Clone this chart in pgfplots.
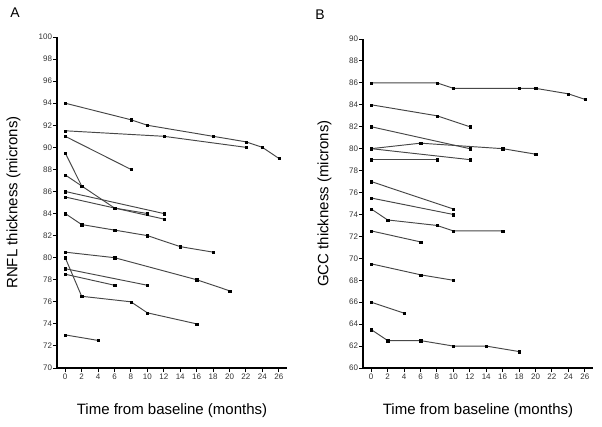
\documentclass[border=0pt]{standalone}
\usepackage{fontspec}
\setmainfont{Liberation Sans}
\usepackage{pgfplots}
\pgfplotsset{compat=1.18}

\pgfplotsset{
  panel/.style={
    scale only axis, width=230pt,
    xmin=-1, xmax=27,
    axis x line*=bottom, axis y line*=left,
    axis line style={line width=1.3pt, black, -},
    xtick={0,2,...,26},
    ytick distance=2,
    tick style={line width=0.9pt, black},
    major tick length=4pt,
    tick align=outside,
    /pgf/number format/assume math mode=true,
    tick label style={font=\fontsize{8}{9}\selectfont, text=black!80},
    yticklabel style={inner sep=0.8pt},
    xticklabel style={inner sep=1.5pt},
    every axis x label/.style={at={(axis description cs:0.5,0)}, anchor=center, yshift=-43pt, font=\fontsize{15}{18}\selectfont},
    clip=false,
  },
  subj/.style={line width=0.95pt, black!72, mark=square*, mark size=1.15pt, mark options={black, solid, line width=0.2pt}},
}

\begin{document}
\begin{tikzpicture}
\path[use as bounding box] (0,0) rectangle (602pt,426pt);
\node[font=\fontsize{14}{16}\selectfont] at (15pt,413pt) {A};
\node[font=\fontsize{14}{16}\selectfont] at (320pt,411pt) {B};

% RNFL
\begin{axis}[panel, at={(57pt,58pt)}, anchor=south west, height=331pt,
  ymin=70, ymax=100,
  xlabel={Time from baseline (months)},
  ylabel={RNFL thickness (microns)},
  every axis y label/.style={at={(axis description cs:0,0.5)}, xshift=-43.5pt, rotate=90, anchor=center, font=\fontsize{15}{18}\selectfont},
]
\addplot[subj] coordinates {(0,94)(8,92.5)(10,92)(18,91)(22,90.5)(24,90)(26,89)};
\addplot[subj] coordinates {(0,91.5)(12,91)(22,90)};
\addplot[subj] coordinates {(0,91)(8,88)};
\addplot[subj] coordinates {(0,89.5)(2,86.5)};
\addplot[subj] coordinates {(0,87.5)(2,86.5)(6,84.5)(10,84)};
\addplot[subj] coordinates {(0,86)(12,84)};
\addplot[subj] coordinates {(0,85.5)(12,83.5)};
\addplot[subj] coordinates {(0,84)(2,83)(6,82.5)(10,82)(14,81)(18,80.5)};
\addplot[subj] coordinates {(0,80.5)(6,80)(16,78)(20,77)};
\addplot[subj] coordinates {(0,80)(2,76.5)(8,76)(10,75)(16,74)};
\addplot[subj] coordinates {(0,79)(10,77.5)};
\addplot[subj] coordinates {(0,78.5)(6,77.5)};
\addplot[subj] coordinates {(0,73)(4,72.5)};
\end{axis}

% GCC
\begin{axis}[panel, at={(363pt,58pt)}, anchor=south west, height=329pt,
  ymin=60, ymax=90,
  xlabel={Time from baseline (months)},
  ylabel={GCC thickness (microns)},
  every axis y label/.style={at={(axis description cs:0,0.5)}, xshift=-38.5pt, rotate=90, anchor=center, font=\fontsize{15}{18}\selectfont},
]
\addplot[subj] coordinates {(0,86)(8,86)(10,85.5)(18,85.5)(20,85.5)(24,85)(26,84.5)};
\addplot[subj] coordinates {(0,84)(8,83)(12,82)};
\addplot[subj] coordinates {(0,82)(12,80)};
\addplot[subj] coordinates {(0,80)(6,80.5)(16,80)(20,79.5)};
\addplot[subj] coordinates {(0,80)(12,79)};
\addplot[subj] coordinates {(0,79)(8,79)};
\addplot[subj] coordinates {(0,77)(10,74.5)};
\addplot[subj] coordinates {(0,75.5)(10,74)};
\addplot[subj] coordinates {(0,74.5)(2,73.5)(8,73)(10,72.5)(16,72.5)};
\addplot[subj] coordinates {(0,72.5)(6,71.5)};
\addplot[subj] coordinates {(0,69.5)(6,68.5)(10,68)};
\addplot[subj] coordinates {(0,66)(4,65)};
\addplot[subj] coordinates {(0,63.5)(2,62.5)(6,62.5)(10,62)(14,62)(18,61.5)};
\end{axis}
\end{tikzpicture}
\end{document}
